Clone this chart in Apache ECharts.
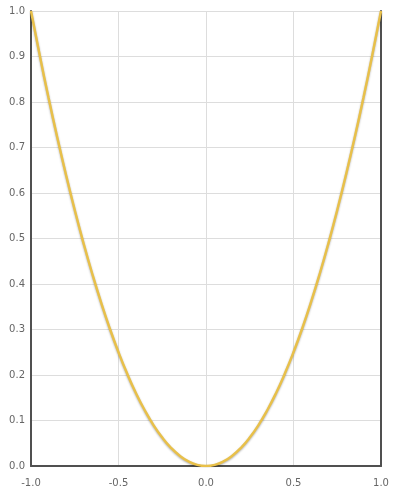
<!DOCTYPE html>
<html><head><meta charset="utf-8">
<script src="https://cdn.jsdelivr.net/npm/echarts@6/dist/echarts.min.js"></script>
<style>html,body{margin:0;padding:0;background:#fff}#c{width:395px;height:494px}</style>
</head><body><div id="c"></div>
<script>
var xValues = [-1.0,-0.95,-0.9,-0.85,-0.8,-0.75,-0.7,-0.65,-0.6,-0.55,-0.5,-0.45,-0.4,-0.35,-0.3,-0.25,-0.2,-0.15,-0.1,-0.05,0.0,0.05,0.1,0.15,0.2,0.25,0.3,0.35,0.4,0.45,0.5,0.55,0.6,0.65,0.7,0.75,0.8,0.85,0.9,0.95,1.0];
var yValues = [1.0,0.9025,0.81,0.7225,0.64,0.5625,0.49,0.4225,0.36,0.3025,0.25,0.2025,0.16,0.1225,0.09,0.0625,0.04,0.0225,0.01,0.0025,0.0,0.0025,0.01,0.0225,0.04,0.0625,0.09,0.1225,0.16,0.2025,0.25,0.3025,0.36,0.4225,0.49,0.5625,0.64,0.7225,0.81,0.9025,1.0];
var data = xValues.map(function(x,i){return [x,yValues[i]];});
var chart = echarts.init(document.getElementById('c'));
var lbl = {color:'#666', fontSize:10, fontFamily:'DejaVu Sans', formatter:function(v){return v.toFixed(1);}};
chart.setOption({
  animation:false,
  grid:{left:31,right:14,top:11,bottom:28},
  xAxis:{type:'value',min:-1,max:1,interval:0.5,
    axisLine:{onZero:false,lineStyle:{color:'#505050',width:2}},
    axisTick:{show:false},
    axisLabel:Object.assign({margin:12},lbl),
    splitLine:{lineStyle:{color:'#ddd'}}},
  yAxis:[{type:'value',min:0,max:1,interval:0.1,
    axisLine:{show:true,onZero:false,lineStyle:{color:'#505050',width:2}},
    axisTick:{show:false},
    axisLabel:Object.assign({margin:6},lbl),
    splitLine:{lineStyle:{color:'#ddd'}}},
    {type:'value',min:0,max:1,interval:0.1,position:'right',
    axisLine:{show:true,onZero:false,lineStyle:{color:'#505050',width:2}},
    axisTick:{show:false},axisLabel:{show:false},splitLine:{show:false}}],
  series:[{type:'line',data:data,smooth:true,showSymbol:false,
    lineStyle:{color:'#e8c04a',width:2.5,shadowColor:'rgba(0,0,0,0.3)',shadowBlur:2,shadowOffsetY:1}}]
});
</script></body></html>
